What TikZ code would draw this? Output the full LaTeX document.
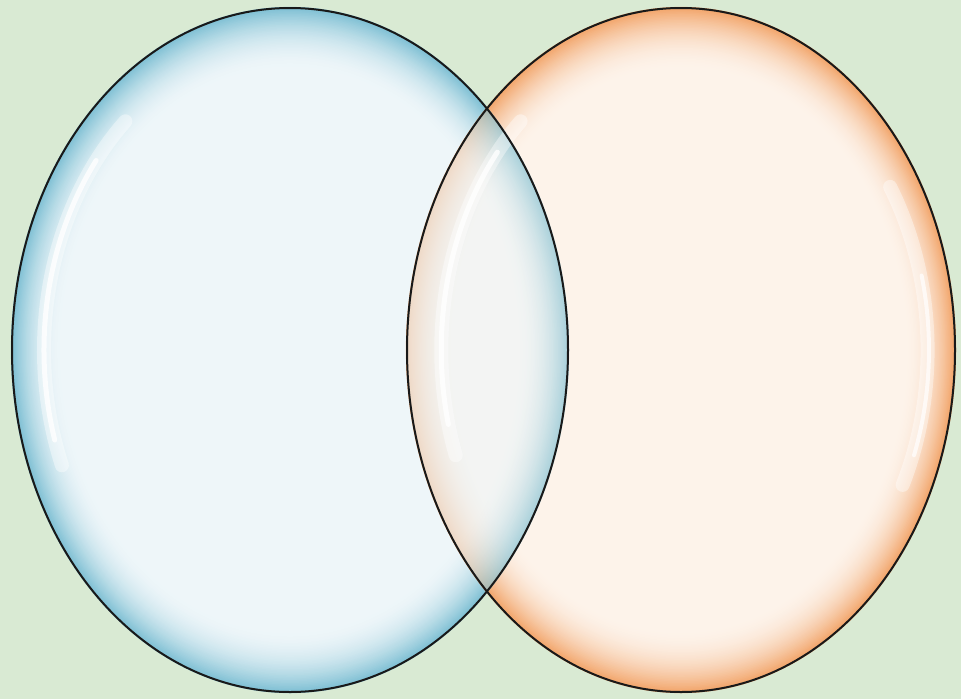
\documentclass[tikz,border=0pt]{standalone}
\definecolor{bg}{HTML}{D9EAD3}
\definecolor{bIn}{HTML}{EEF6F9}
\definecolor{bOut}{HTML}{7FC0D4}
\definecolor{oIn}{HTML}{FDF3EA}
\definecolor{oOut}{HTML}{F2A66C}
\newcommand\mybubble[6]{%
  \fill[#5] (#1,#2) ellipse [x radius=#3, y radius=#4];
  \foreach \i in {0,...,40}{%
    \pgfmathsetmacro\s{0.82+0.18*\i/40}%
    \pgfmathsetmacro\p{100*(\i/40)^2.0}%
    \draw[#6!\p!#5, line width=2.2pt] (#1,#2) ellipse [x radius={#3*\s}, y radius={#4*\s}];
  }%
}
\tikzset{
  outline/.style={draw=black!90, line width=2pt},
  glow/.style={white, line cap=round, opacity=0.4, line width=14pt},
  gleam/.style={white, line cap=round, opacity=0.8, line width=5pt},
}
\begin{document}
\begin{tikzpicture}[x=1pt,y=-1pt]
\useasboundingbox (0,0) rectangle (961,699);
\fill[bg] (0,0) rectangle (961,699);
\coordinate (L) at (290,350);
\coordinate (R) at (681,350);
% left bubble
\mybubble{290}{350}{278}{342}{bIn}{bOut}
\draw[glow] plot[domain=158:228, samples=40] ({290+0.885*278*cos(\x)},{350+0.9*342*sin(\x)});
\draw[gleam] plot[domain=163:218, samples=40] ({290+0.885*278*cos(\x)},{350+0.9*342*sin(\x)});
% right bubble
\mybubble{681}{350}{274}{342}{oIn}{oOut}
% overlap: left bubble seen through the right one
\begin{scope}
  \clip (R) ellipse [x radius=274, y radius=342];
  \begin{scope}[transparency group, opacity=0.65]
    \mybubble{290}{350}{278}{342}{bIn}{bOut}
  \end{scope}
\end{scope}
% right bubble highlights
\draw[glow] plot[domain=160:228, samples=40] ({681+0.875*274*cos(\x)},{350+0.9*342*sin(\x)});
\draw[gleam] plot[domain=166:220, samples=40] ({681+0.875*274*cos(\x)},{350+0.9*342*sin(\x)});
\draw[glow, opacity=0.4] plot[domain=-32:26, samples=40] ({681+0.9*274*cos(\x)},{350+0.9*342*sin(\x)});
\draw[gleam, opacity=0.7, line width=4pt] plot[domain=-14:20, samples=40] ({681+0.905*274*cos(\x)},{350+0.9*342*sin(\x)});
% outlines
\draw[outline] (L) ellipse [x radius=278, y radius=342];
\draw[outline] (R) ellipse [x radius=274, y radius=342];
\end{tikzpicture}
\end{document}
